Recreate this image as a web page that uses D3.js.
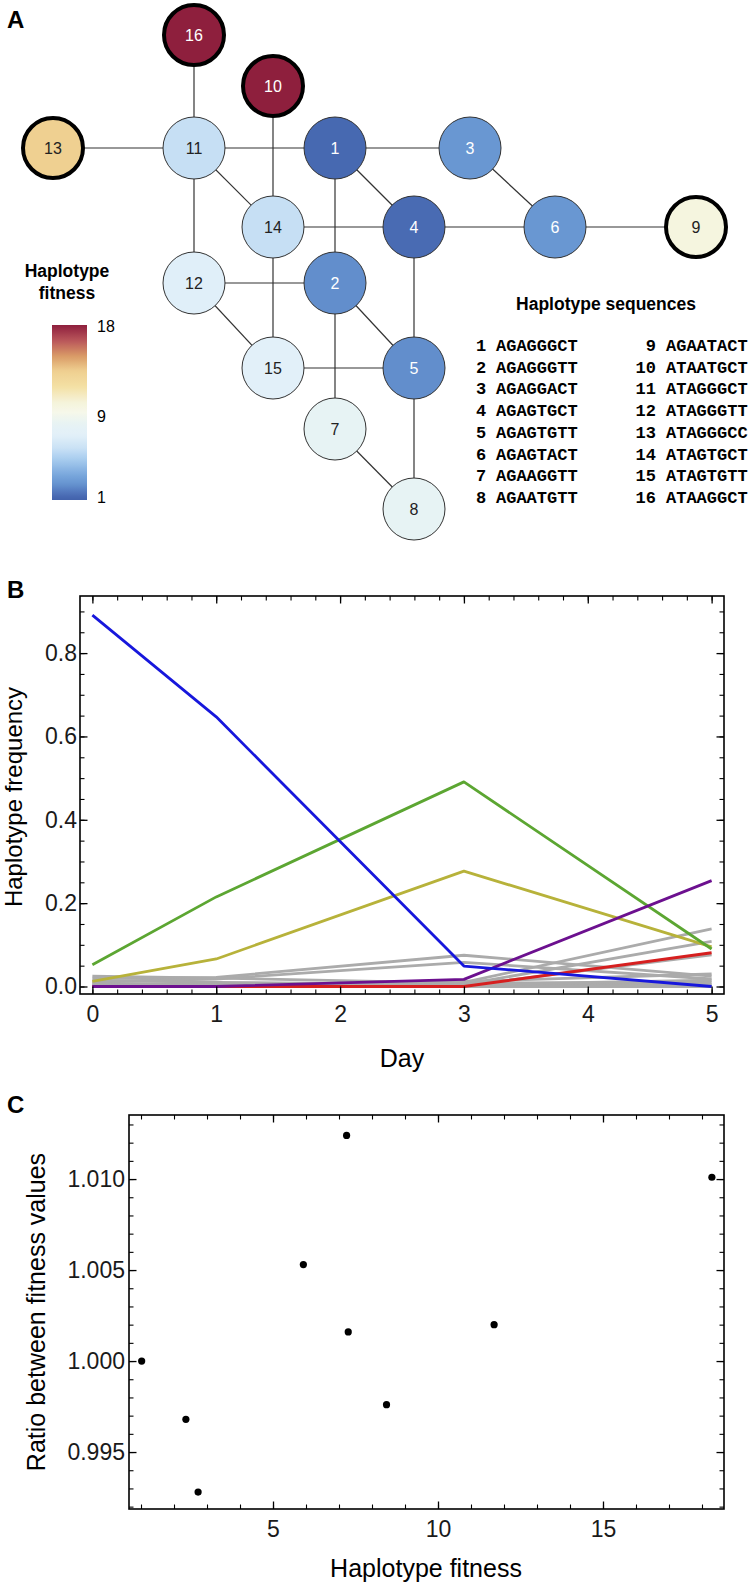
<!DOCTYPE html>
<html><head><meta charset="utf-8">
<script src="https://cdn.jsdelivr.net/npm/d3@7"></script>
<style>
body{margin:0;background:#fff;}
svg{display:block;font-family:"Liberation Sans",Arial,Helvetica,sans-serif;}
</style></head><body>
<svg id="c" width="752" height="1593"></svg>
<script>
// ---------------- Panel A data ----------------
const haplotypes = [1,2,3,4,5,6,7,8,9,10,11,12,13,14,15,16];
const sequences = ["AGAGGGCT","AGAGGGTT","AGAGGACT","AGAGTGCT","AGAGTGTT","AGAGTACT","AGAAGGTT","AGAATGTT",
                   "AGAATACT","ATAATGCT","ATAGGGCT","ATAGGGTT","ATAGGGCC","ATAGTGCT","ATAGTGTT","ATAAGGCT"];
const fitness = [1.3, 2.4, 2.7, 1.4, 2.4, 2.7, 8.4, 8.4, 10.2, 18, 5.9, 7.2, 13.5, 5.9, 7.3, 18];
const highlighted = [9, 10, 13, 16];
const edges = [[16,11],[10,14],[13,11],[11,1],[1,3],[11,14],[11,12],[1,4],[1,2],[14,4],[3,6],[4,6],[6,9],
               [14,15],[12,2],[12,15],[2,5],[4,5],[15,5],[2,7],[7,8],[5,8]];
// grid layout (column / row index of each haplotype)
const nodeCol = [3,3,5,4,4,6,3,4,7,2,1,1,0,2,2,1];
const nodeRow = [2,4,2,3,5,3,6,7,3,1,2,4,2,3,5,0];
const colorbarTicks = [1, 9, 18];

// ---------------- Panel B data ----------------
const days = [0, 1, 3, 5];
const freqBlue   = [0.891, 0.647, 0.049, 0.000];
const freqGreen  = [0.052, 0.215, 0.491, 0.090];
const freqOlive  = [0.012, 0.066, 0.277, 0.095];
const freqPurple = [0.000, 0.000, 0.017, 0.254];
const freqRed    = [0.000, 0.000, 0.000, 0.081];
const freqGray = [
  [0.020, 0.022, 0.075, 0.025],
  [0.012, 0.018, 0.058, 0.018],
  [0.000, 0.002, 0.010, 0.138],
  [0.005, 0.005, 0.005, 0.108],
  [0.000, 0.000, 0.002, 0.076],
  [0.025, 0.020, 0.008, 0.010],
  [0.008, 0.005, 0.003, 0.005],
  [0.003, 0.002, 0.000, 0.002],
  [0.000, 0.000, 0.000, 0.000],
  [0.015, 0.010, 0.004, 0.015],
  [0.002, 0.003, 0.012, 0.030]
];
const dayTicks = [0,1,2,3,4,5];
const freqTicks = [0.0, 0.2, 0.4, 0.6, 0.8];

// ---------------- Panel C data ----------------
const fitnessX = [1.02, 2.36, 2.73, 5.92, 7.23, 7.28, 8.44, 11.7, 18.3];
const ratioY   = [1.0000, 0.9968, 0.9928, 1.0053, 1.0124, 1.0016, 0.9976, 1.0020, 1.0101];
const fitTicks = [5, 10, 15];
const ratioTicks = [0.995, 1.000, 1.005, 1.010];

// =================================================
const svg = d3.select("#c");

// panel letters
[["A",28],["B",598],["C",1113]].forEach(([t,y]) =>
  svg.append("text").attr("x",7).attr("y",y).attr("font-size",24).attr("font-weight","bold").text(t));

// ---------- Panel A ----------
const colX = d3.scaleOrdinal().domain(d3.range(8)).range([53,194,273,335,414,470,555,696]);
const rowY = d3.scaleOrdinal().domain(d3.range(8)).range([35,86,148,227,283,368,429,509]);
const color = d3.scaleLinear()
  .domain([1, 1.5, 2.5, 3.5, 5, 6, 7.3, 8.4, 9.5, 10.5, 12, 13.5, 15, 16.5, 18])
  .range(["#4262ab","#4b6db5","#6492cf","#7ba9dd","#a9cdef","#c9e1f5","#e2f0f9","#e7f3f4",
          "#f6f8ea","#f5f3da","#f4e0a4","#efd091","#d99a66","#b9555a","#8e1f3d"])
  .interpolate(d3.interpolateRgb);

const nodes = haplotypes.map((h,i) => ({id:h, fit:fitness[i], x:colX(nodeCol[i]), y:rowY(nodeRow[i]),
  thick: highlighted.includes(h)}));
const byId = new Map(nodes.map(n => [n.id, n]));

const gA = svg.append("g");
gA.selectAll("line.edge").data(edges).join("line")
  .attr("x1", d => byId.get(d[0]).x).attr("y1", d => byId.get(d[0]).y)
  .attr("x2", d => byId.get(d[1]).x).attr("y2", d => byId.get(d[1]).y)
  .attr("stroke","#333").attr("stroke-width",1.2);

const ng = gA.selectAll("g.node").data(nodes).join("g").attr("transform", d => `translate(${d.x},${d.y})`);
ng.append("circle").attr("r", d => d.thick ? 30 : 31)
  .attr("fill", d => color(d.fit))
  .attr("stroke", d => d.thick ? "#000" : "#333")
  .attr("stroke-width", d => d.thick ? 4 : 1);
ng.append("text").attr("text-anchor","middle").attr("dy","0.36em").attr("font-size",16)
  .attr("fill", d => (d.fit < 4 || d.fit > 16) ? "#fff" : "#222")
  .text(d => d.id);

// colorbar
const cbY = d3.scaleLinear().domain([1,18]).range([497,326]);
const defs = svg.append("defs");
const grad = defs.append("linearGradient").attr("id","cb").attr("x1",0).attr("y1",1).attr("x2",0).attr("y2",0);
d3.range(0,1.0001,0.02).forEach(t => grad.append("stop").attr("offset",t).attr("stop-color", color(1+17*t)));
svg.append("rect").attr("x",52).attr("y",325).attr("width",35).attr("height",175).attr("fill","url(#cb)");
svg.selectAll("text.cbt").data(colorbarTicks).join("text")
  .attr("x",97).attr("y", d => cbY(d)).attr("dy","0.36em").attr("font-size",16).text(d => d);
svg.append("text").attr("x",67).attr("y",277).attr("text-anchor","middle").attr("font-size",17.5)
  .attr("font-weight","bold").text("Haplotype");
svg.append("text").attr("x",67).attr("y",299).attr("text-anchor","middle").attr("font-size",17.5)
  .attr("font-weight","bold").text("fitness");

// sequences table
svg.append("text").attr("x",606).attr("y",310).attr("text-anchor","middle").attr("font-size",17.5)
  .attr("font-weight","bold").text("Haplotype sequences");
const seqRow = d3.scaleLinear().domain([0,7]).range([351,503]);
const seqG = svg.append("g").attr("font-family","'Liberation Mono','DejaVu Sans Mono',monospace")
  .attr("font-weight","bold").attr("font-size",17);
haplotypes.forEach((h,i) => {
  const col = i < 8 ? 0 : 1, r = i % 8;
  seqG.append("text").attr("x", col ? 656 : 476).attr("text-anchor", col ? "end" : "start")
    .attr("y", seqRow(r)).text(h);
  seqG.append("text").attr("x", col ? 666 : 496).attr("y", seqRow(r)).text(sequences[i]);
});

// ---------- generic framed axes ----------
function framed(g, x, y, o) {
  const [x0,x1] = x.range(), [y1,y0] = y.range();
  const mk = (axisFn, scale, vals, size) => axisFn(scale).tickValues(vals).tickSizeInner(size).tickSizeOuter(0).tickFormat("");
  [[d3.axisBottom, x, o.xMinor, `translate(0,${y1})`],[d3.axisTop, x, o.xMinor, `translate(0,${y0})`],
   [d3.axisLeft, y, o.yMinor, `translate(${x0},0)`],[d3.axisRight, y, o.yMinor, `translate(${x1},0)`]].forEach(([f,s,v,t]) => {
    const a = g.append("g").attr("transform",t).call(mk(f,s,v,-4.5));
    a.select(".domain").remove(); a.selectAll("line").attr("stroke","#000").attr("stroke-width",1.1);
  });
  [[d3.axisBottom, x, o.xMajor, `translate(0,${y1})`],[d3.axisTop, x, o.xMajor, `translate(0,${y0})`],
   [d3.axisLeft, y, o.yMajor, `translate(${x0},0)`],[d3.axisRight, y, o.yMajor, `translate(${x1},0)`]].forEach(([f,s,v,t]) => {
    const a = g.append("g").attr("transform",t).call(mk(f,s,v,-7.5));
    a.select(".domain").remove(); a.selectAll("line").attr("stroke","#000").attr("stroke-width",1.3);
  });
  const bx = g.append("g").attr("transform",`translate(0,${y1})`)
    .call(d3.axisBottom(x).tickValues(o.xMajor).tickSize(0).tickPadding(o.xPad).tickFormat(o.xFmt));
  bx.select(".domain").remove();
  bx.selectAll("text").attr("font-size",23).attr("fill","#1a1a1a").attr("font-family","'Liberation Sans',Arial,sans-serif");
  const ly = g.append("g").attr("transform",`translate(${x0},0)`)
    .call(d3.axisLeft(y).tickValues(o.yMajor).tickSize(0).tickPadding(o.yPad).tickFormat(o.yFmt));
  ly.select(".domain").remove();
  ly.selectAll("text").attr("font-size",23).attr("fill","#1a1a1a").attr("font-family","'Liberation Sans',Arial,sans-serif");
  g.append("rect").attr("x",x0).attr("y",y0).attr("width",x1-x0).attr("height",y1-y0)
    .attr("fill","none").attr("stroke","#000").attr("stroke-width",1.6);
}

// ---------- Panel B ----------
const xB = d3.scaleLinear().domain([-0.1, 5.1]).range([80, 724]);
const yB = d3.scaleLinear().domain([-0.018, 0.937]).range([994, 596]);
const gB = svg.append("g");
const lineB = d3.line().x((d,i) => xB(days[i])).y(d => yB(d));
const clipB = defs.append("clipPath").attr("id","clipB");
clipB.append("rect").attr("x",80).attr("y",596).attr("width",644).attr("height",398);
const linesG = gB.append("g").attr("clip-path","url(#clipB)").attr("fill","none")
  .attr("stroke-width",2.8).attr("stroke-linejoin","round");
linesG.selectAll("path.gray").data(freqGray).join("path").attr("d", lineB).attr("stroke","#ababab");
const colored = [[freqRed,"#d61f1f"],[freqOlive,"#b7b23a"],[freqGreen,"#5ca632"],[freqPurple,"#6c108f"],[freqBlue,"#1717dc"]];
linesG.selectAll("path.col").data(colored).join("path").attr("d", d => lineB(d[0])).attr("stroke", d => d[1]);
framed(gB, xB, yB, {
  xMajor: dayTicks, xMinor: d3.range(0, 5.0001, 0.2).map(v => +v.toFixed(2)),
  yMajor: freqTicks, yMinor: d3.range(0, 0.9301, 0.05).map(v => +v.toFixed(2)),
  xFmt: d3.format("d"), yFmt: d3.format(".1f"), xPad: 12, yPad: 3
});
svg.append("text").attr("x",402).attr("y",1067).attr("text-anchor","middle").attr("font-size",25).text("Day");
svg.append("text").attr("transform","translate(22,797) rotate(-90)").attr("text-anchor","middle")
  .attr("font-size",24).text("Haplotype frequency");

// ---------- Panel C ----------
const xC = d3.scaleLinear().domain([0.636, 18.667]).range([129, 724]);
const yC = d3.scaleLinear().domain([0.99187, 1.01352]).range([1509, 1115]);
const gC = svg.append("g");
framed(gC, xC, yC, {
  xMajor: fitTicks, xMinor: d3.range(1, 19, 1),
  yMajor: ratioTicks, yMinor: d3.range(0.992, 1.0131, 0.001).map(v => +v.toFixed(3)),
  xFmt: d3.format("d"), yFmt: d3.format(".3f"), xPad: 12, yPad: 4
});
gC.selectAll("circle.pt").data(fitnessX).join("circle")
  .attr("cx", d => xC(d)).attr("cy", (d,i) => yC(ratioY[i])).attr("r",3.6).attr("fill","#000");
svg.append("text").attr("x",426).attr("y",1577).attr("text-anchor","middle").attr("font-size",25).text("Haplotype fitness");
svg.append("text").attr("transform","translate(45,1312) rotate(-90)").attr("text-anchor","middle")
  .attr("font-size",25).text("Ratio between fitness values");
</script>
</body></html>
